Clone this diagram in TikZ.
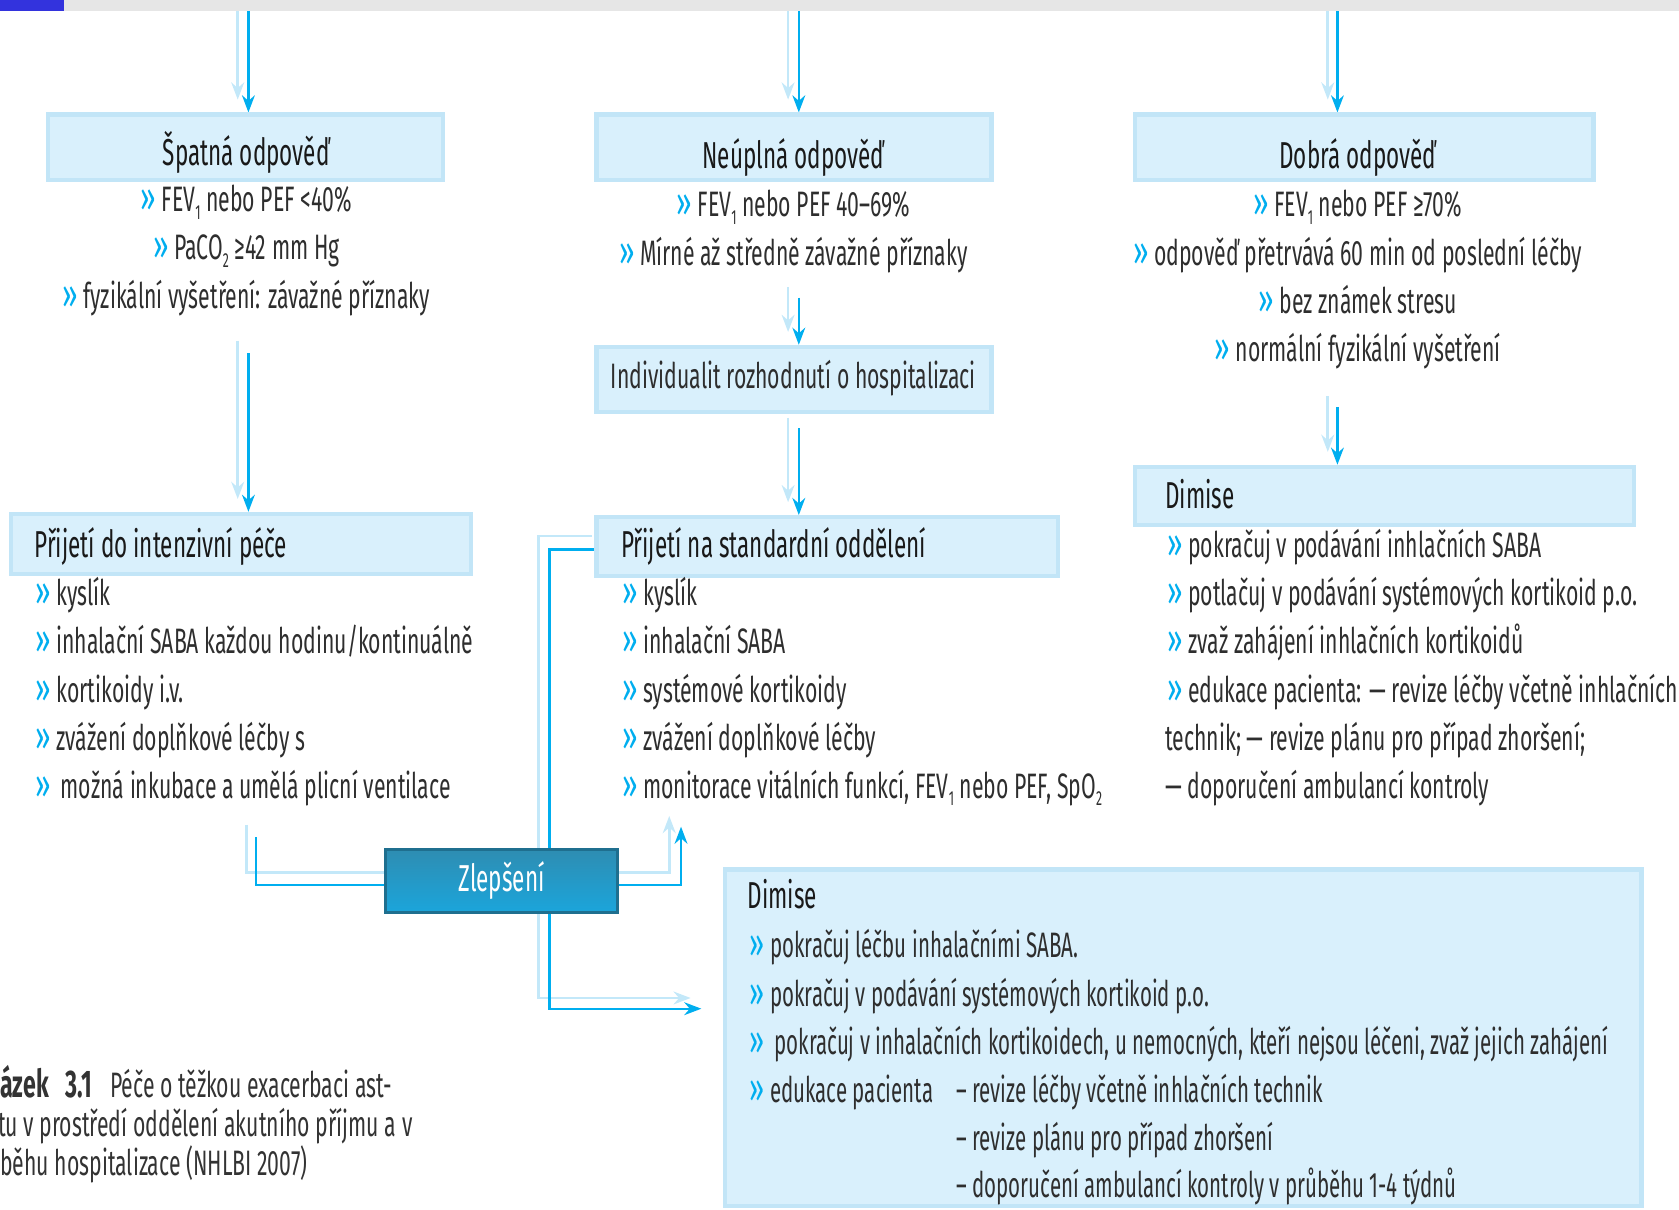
\documentclass[tikz,border=0pt]{standalone}
\usepackage{fontspec}
\setmainfont{Fira Sans}[FakeStretch=0.60]
\newfontfamily\narrowfam{Fira Sans}[FakeStretch=0.58]
\usetikzlibrary{arrows.meta,calc}
\definecolor{cyanB}{HTML}{00AEEF}
\definecolor{paleB}{HTML}{C3E8F9}
\definecolor{boxfill}{HTML}{D9F0FC}
\definecolor{boxedge}{HTML}{C2E5F7}
\definecolor{txtc}{HTML}{2E2E2E}
\definecolor{topgray}{HTML}{E6E6E6}
\definecolor{topblue}{HTML}{3333DD}
\definecolor{zlA}{HTML}{2E8DB2}
\definecolor{zlB}{HTML}{1BA5DB}
\definecolor{zlEdge}{HTML}{1F6F8F}
\newcommand\bul{{\color{cyanB}\scalebox{1.3}[1.15]{»}}\hspace{5pt}}
\newcommand\lowidx[1]{\raisebox{-7pt}{\fontsize{19}{19}\selectfont #1}}
\pgfdeclarelayer{bg}
\pgfsetlayers{bg,main}
\begin{document}
\begin{tikzpicture}[x=1pt,y=-1pt,
  bx/.style={draw=boxedge, line width=4pt, fill=boxfill, inner sep=0pt},
  body/.style={inner sep=0pt, text=txtc, font=\fontsize{33}{38}\selectfont},
  nbody/.style={inner sep=0pt, text=txtc, font=\narrowfam\fontsize{33}{38}\selectfont},
  capt/.style={inner sep=0pt, text=black!80, font=\fontsize{33}{38}\selectfont},
  ttl/.style={inner sep=0pt, text=black!90, font=\fontsize{35}{40}\selectfont},
  zlbox/.style={draw=zlEdge, line width=3pt, top color=zlA, bottom color=zlB, text=white, font=\fontsize{35}{40}\selectfont, inner sep=0pt},
  brt/.style={draw=cyanB, line width=2.2pt},
  pal/.style={draw=paleB, line width=2.5pt},
  tip/.style={-{Stealth[length=16pt,width=12pt]}}]
\useasboundingbox (0,0) rectangle (1568,1130);
\fill[topgray] (0,0) rectangle (1568,10);
\fill[topblue] (0,0) rectangle (60,10);

% boxes
\node[bx, minimum width=369pt, minimum height=61pt] (b1) at (229.5,137.5) {};
\node[bx, minimum width=369pt, minimum height=61pt] (b2) at (741.5,137.5) {};
\node[bx, minimum width=428pt, minimum height=61pt] (b3) at (1274,137.5) {};
\node[bx, minimum width=369pt, minimum height=61pt] (ind) at (741.5,354.5) {};
\node[bx, minimum width=430pt, minimum height=56pt] (icu) at (225,508) {};
\node[bx, minimum width=431pt, minimum height=55pt] (std) at (772.5,510.5) {};
\node[bx, minimum width=466pt, minimum height=54pt] (dm1) at (1293,463) {};
\node[bx, minimum width=856pt, minimum height=314pt] (dm2) at (1105,969) {};
\node[zlbox, minimum width=217pt, minimum height=59pt] (zl) at (468.5,822.5) {\raisebox{-4pt}{Zlepšení}};

% column 1
\node[ttl, anchor=mid] (b1t) at (230,152) {Špatná odpověď};
\node[body, anchor=mid] (b1a) at (230,195) {\bul FEV\lowidx{1} nebo PEF <40\%};
\node[body, anchor=mid] (b1b) at (230,240) {\bul PaCO\lowidx{2} ≥42 mm Hg};
\node[body, anchor=mid] (b1c) at (230,285) {\bul fyzikální vyšetření: závažné příznaky};

% column 2
\node[ttl, anchor=mid] (b2t) at (741,155) {Neúplná odpověď};
\node[body, anchor=mid] (b2a) at (741,200) {\bul FEV\lowidx{1} nebo PEF 40–69\%};
\node[body, anchor=mid] (b2b) at (741,245) {\bul Mírné až středně závažné příznaky};
\node[body, anchor=mid] (indt) at (741,360) {Individualit rozhodnutí o hospitalizaci};

% column 3
\node[ttl, anchor=mid] (b3t) at (1268,155) {Dobrá odpověď};
\node[body, anchor=mid] (b3a) at (1268,200) {\bul FEV\lowidx{1} nebo PEF ≥70\%};
\node[body, anchor=mid] (b3b) at (1268,245) {\bul odpověď přetrvává 60 min od poslední léčby};
\node[body, anchor=mid] (b3c) at (1268,290) {\bul bez známek stresu};
\node[body, anchor=mid] (b3d) at (1268,335) {\bul normální fyzikální vyšetření};

% ICU
\node[ttl, anchor=mid west] (icut) at (32,518) {Přijetí do intenzivní péče};
\node[body, anchor=mid west] (icu1) at (33,563) {\bul kyslík};
\node[body, anchor=mid west] (icu2) at (33,608) {\bul inhalační SABA každou hodinu/kontinuálně};
\node[body, anchor=mid west] (icu3) at (33,653) {\bul kortikoidy i.v.};
\node[body, anchor=mid west] (icu4) at (33,698) {\bul zvážení doplňkové léčby s};
\node[body, anchor=mid west] (icu5) at (33,743) {\bul\hspace{4pt}možná inkubace a umělá plicní ventilace};

% standard ward
\node[ttl, anchor=mid west] (stdt) at (580,518) {Přijetí na standardní oddělení};
\node[body, anchor=mid west] (std1) at (581,563) {\bul kyslík};
\node[body, anchor=mid west] (std2) at (581,608) {\bul inhalační SABA};
\node[body, anchor=mid west] (std3) at (581,653) {\bul systémové kortikoidy};
\node[body, anchor=mid west] (std4) at (581,698) {\bul zvážení doplňkové léčby};
\node[body, anchor=mid west] (std5) at (581,743) {\bul monitorace vitálních funkcí, FEV\lowidx{1} nebo PEF, SpO\lowidx{2}};

% Dimise right
\node[ttl, anchor=mid west] (dm1t) at (1088,472) {Dimise};
\node[body, anchor=mid west] (dm1a) at (1090,518) {\bul pokračuj v podávání inhlačních SABA};
\node[body, anchor=mid west] (dm1b) at (1090,563) {\bul potlačuj v podávání systémových kortikoid p.o.};
\node[body, anchor=mid west] (dm1c) at (1090,608) {\bul zvaž zahájení inhlačních kortikoidů};
\node[body, anchor=mid west] (dm1d) at (1090,653) {\bul edukace pacienta: — revize léčby včetně inhlačních};
\node[body, anchor=mid west] (dm1e) at (1088,698) {technik; — revize plánu pro případ zhoršení;};
\node[body, anchor=mid west] (dm1f) at (1088,743) {— doporučení ambulancí kontroly};

% Dimise bottom
\node[ttl, anchor=mid west] (dm2t) at (698,846) {Dimise};
\node[nbody, anchor=mid west] (dm2a) at (700,892) {\bul pokračuj léčbu inhalačními SABA.};
\node[nbody, anchor=mid west] (dm2b) at (700,937) {\bul pokračuj v podávání systémových kortikoid p.o.};
\node[nbody, anchor=mid west] (dm2c) at (700,982) {\bul\hspace{4pt}pokračuj v inhalačních kortikoidech, u nemocných, kteří nejsou léčeni, zvaž jejich zahájení};
\node[nbody, anchor=mid west] (dm2d) at (700,1027) {\bul edukace pacienta};
\node[nbody, anchor=mid west] (dm2e) at (893,1027) {– revize léčby včetně inhlačních technik};
\node[nbody, anchor=mid west] (dm2f) at (893,1072) {– revize plánu pro případ zhoršení};
\node[nbody, anchor=mid west] (dm2g) at (893,1116) {– doporučení ambulancí kontroly v průběhu 1-4 týdnů};

% caption
\node[capt, anchor=mid west] (cap1) at (0,1022) {{\fontsize{36}{40}\selectfont\bfseries ázek\hspace{16pt}3.1}\hspace{17pt}Péče o těžkou exacerbaci ast-};
\node[capt, anchor=mid west] (cap2) at (-2,1059) {tu v prostředí oddělení akutního příjmu a v};
\node[capt, anchor=mid west] (cap3) at (0,1095) {běhu hospitalizace (NHLBI 2007)};

% connectors
\coordinate (s1p) at (222,10); \coordinate (s1b) at (232,10);
\coordinate (s2p) at (736,10); \coordinate (s2b) at (746,10);
\coordinate (s3p) at (1240,10); \coordinate (s3b) at (1249,10);
\coordinate (m1p) at (222,318); \coordinate (m1b) at (232,330);
\coordinate (m2p) at (736,268); \coordinate (m2b) at (746,278);
\coordinate (m3p) at (736,390); \coordinate (m3b) at (746,400);
\coordinate (m4p) at (1240,370); \coordinate (m4b) at (1249,380);
\coordinate (c1p) at (230,770); \coordinate (c1b) at (239,782);
\coordinate (u1p) at (625,762); \coordinate (u1b) at (636,772);
\coordinate (v1p) at (503,932); \coordinate (v1b) at (513,942);
\coordinate (e1p) at (645,932); \coordinate (e1b) at (655,942);
\begin{pgfonlayer}{bg}
\draw[pal,tip] (s1p) -- ($(s1p|-b1.north)+(0,-12)$);
\draw[brt,tip] (s1b) -- (s1b|-b1.north);
\draw[pal,tip] (s2p) -- ($(s2p|-b2.north)+(0,-12)$);
\draw[brt,tip] (s2b) -- (s2b|-b2.north);
\draw[pal,tip] (s3p) -- ($(s3p|-b3.north)+(0,-12)$);
\draw[brt,tip] (s3b) -- (s3b|-b3.north);
\draw[pal,tip] (m1p) -- ($(m1p|-icu.north)+(0,-12)$);
\draw[brt,tip] (m1b) -- (m1b|-icu.north);
\draw[pal,tip] (m2p) -- ($(m2p|-ind.north)+(0,-12)$);
\draw[brt,tip] (m2b) -- (m2b|-ind.north);
\draw[pal,tip] (m3p) -- ($(m3p|-std.north)+(0,-12)$);
\draw[brt,tip] (m3b) -- (m3b|-std.north);
\draw[pal,tip] (m4p) -- ($(m4p|-dm1.north)+(0,-12)$);
\draw[brt,tip] (m4b) -- (m4b|-dm1.north);
\draw[pal] (c1p) |- ($(zl.west)+(0,-8)$);
\draw[brt] (c1b) |- ($(zl.west)+(0,4)$);
\draw[pal,tip] ($(zl.east)+(0,-8)$) -| (u1p);
\draw[brt,tip] ($(zl.east)+(0,4)$) -| (u1b);
\draw[pal,tip] ($(std.west)+(-2,-10)$) -| (v1p) -- (e1p);
\draw[brt,tip] ($(std.west)+(0,2.5)$) -| (v1b) -- (e1b);
\end{pgfonlayer}
\end{tikzpicture}
\end{document}
